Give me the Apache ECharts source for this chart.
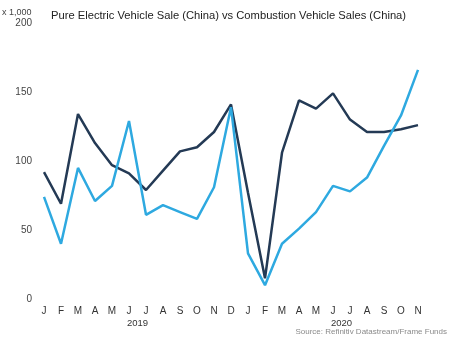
<!DOCTYPE html>
<html><head><meta charset="utf-8">
<script src="https://cdn.jsdelivr.net/npm/echarts@6/dist/echarts.min.js"></script>
<style>html,body{margin:0;padding:0;background:#fff}#c{width:450px;height:338px}</style>
</head><body><div id="c"></div>
<script>
const months = ['J','F','M','A','M','J','J','A','S','O','N','D','J','F','M','A','M','J','J','A','S','O','N'];
const combustion = [92,69,134,113,97,91,79,93,107,110,121,141,77,15,106,144,138,149,130,121,121,123,126];
const electric = [74,40,95,71,82,129,61,68,63,58,81,139,33,10,40,51,63,82,78,88,111,133,166];
const yTicks = [0,50,100,150,200];
const years = [{label:'2019', from:5, to:6},{label:'2020', from:17, to:18}];

const chart = echarts.init(document.getElementById('c'));
const FONT = '"Liberation Sans", Arial, sans-serif';
chart.setOption({
  animation:false,
  backgroundColor:'#fff',
  textStyle:{fontFamily:FONT},
  title:{text:'Pure Electric Vehicle Sale (China) vs Combustion Vehicle Sales (China)', left:46, top:5,
    textStyle:{fontSize:11.2, fontWeight:'normal', color:'#222', fontFamily:FONT}},
  grid:{left:44, right:32, top:23, bottom:39},
  xAxis:{type:'category', data:months, boundaryGap:false,
    axisLine:{show:false}, axisTick:{show:false}, splitLine:{show:false},
    axisLabel:{color:'#333', fontSize:10, margin:7, interval:0, fontFamily:FONT}},
  yAxis:{type:'value', min:yTicks[0], max:yTicks[yTicks.length-1], interval:50,
    axisLine:{show:false}, axisTick:{show:false}, splitLine:{show:false},
    axisLabel:{color:'#444', fontSize:10, margin:12, fontFamily:FONT}},
  series:[
    {type:'line', data:combustion, symbol:'none', lineStyle:{color:'#243a55', width:2.5}},
    {type:'line', data:electric, symbol:'none', lineStyle:{color:'#2ea9e0', width:2.5}}
  ]
});
const g = [];
g.push({type:'text', left:2, top:8, style:{text:'x 1,000', fontSize:9, fill:'#444', fontFamily:FONT}});
years.forEach(y=>{
  const a = chart.convertToPixel({xAxisIndex:0}, y.from);
  const b = chart.convertToPixel({xAxisIndex:0}, y.to);
  g.push({type:'text', x:(a+b)/2, y:318, style:{text:y.label, fontSize:9.5, fill:'#333', align:'center', fontFamily:FONT}});
});
g.push({type:'text', right:3, top:328, style:{text:'Source: Refinitiv Datastream/Frame Funds', fontSize:8, fill:'#8a8a8a', fontFamily:FONT}});
chart.setOption({graphic:g});
</script></body></html>
